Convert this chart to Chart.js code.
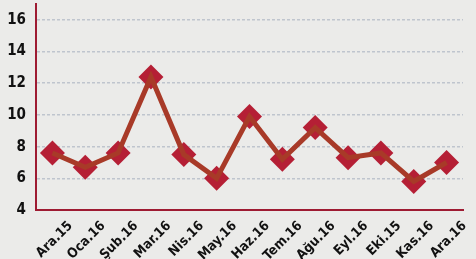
<!DOCTYPE html>
<html><head><meta charset="utf-8">
<script src="https://cdn.jsdelivr.net/npm/chart.js@4/dist/chart.umd.min.js"></script>
<style>html,body{margin:0;padding:0;background:#ebebe9;}#w{width:476px;height:259px;}</style>
</head><body><div id="w"><canvas id="c"></canvas></div>
<script>
const categories = ["Ara.15","Oca.16","Şub.16","Mar.16","Nis.16","May.16","Haz.16","Tem.16","Ağu.16","Eyl.16","Eki.15","Kas.16","Ara.16"];
const values = [7.6,6.7,7.6,12.4,7.5,6.0,9.9,7.2,9.2,7.3,7.6,5.8,7.0];
const yTicks = [4,6,8,10,12,14,16];
const FONT = "'Liberation Sans Narrow','DejaVu Sans Condensed','Liberation Sans',sans-serif";
new Chart(document.getElementById('c'), {
  type: 'line',
  data: { labels: categories, datasets: [
    {
      data: values,
      showLine: false,
      order: 2,
      clip: false,
      pointStyle: 'rectRot',
      pointRadius: 12.5,
      pointBackgroundColor: '#b51f35',
      pointBorderColor: '#b51f35',
      pointBorderWidth: 0
    },
    {
      data: values,
      order: 1,
      clip: false,
      borderColor: '#a83a28',
      borderWidth: 5,
      tension: 0,
      pointRadius: 0
    }
  ]},
  options: {
    responsive: true, maintainAspectRatio: false, animation: false,
    layout: { autoPadding: false, padding: { top: 4, right: 13, left: 0, bottom: 0 } },
    plugins: { legend: { display: false }, tooltip: { enabled: false } },
    scales: {
      x: {
        offset: true,
        afterFit: (s) => { s.height = 49; s.paddingLeft = 0; s.paddingRight = 0; },
        grid: { display: false, drawTicks: false },
        border: { color: '#9e1b32', width: 2 },
        ticks: { minRotation: 45, maxRotation: 45, color: '#111', padding: 8, labelOffset: 18,
                 font: { family: FONT, size: 13.5, weight: 'bold' } }
      },
      y: {
        min: 4, max: 17,
        afterFit: (s) => { s.width = 36; s.paddingTop = 0; s.paddingBottom = 0; },
        afterBuildTicks: (axis) => { axis.ticks = yTicks.map(v => ({ value: v })).concat([{ value: 17 }]); },
        grid: { drawTicks: false,
                color: (ctx) => (ctx.tick && (ctx.tick.value === 4 || ctx.tick.value === 17)) ? 'rgba(0,0,0,0)' : '#bfc5ce',
                lineWidth: 1.5 },
        border: { color: '#9e1b32', width: 2, dash: [3, 2] },
        ticks: { color: '#111', padding: 10,
                 callback: (v) => v === 17 ? '' : String(v),
                 font: { family: FONT, size: 15, weight: 'bold' } }
      }
    }
  }
});
</script></body></html>
